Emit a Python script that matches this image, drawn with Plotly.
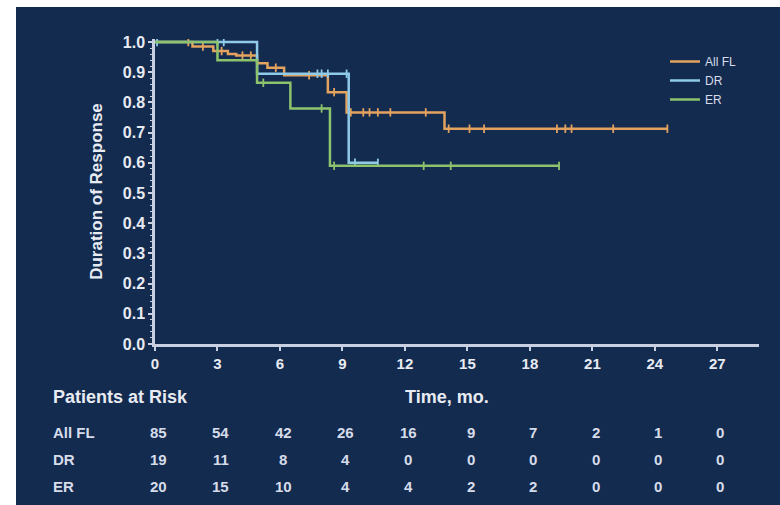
import plotly.graph_objects as go
import numpy as np

# ---- Kaplan-Meier step data (time in months, probability of remaining in response) ----
all_fl_time = [0, 1.8, 2.8, 3.5, 3.9, 4.9, 5.4, 6.2, 8.3, 9.2, 13.9]
all_fl_surv = [1.0, 0.985, 0.97, 0.96, 0.955, 0.93, 0.915, 0.89, 0.834, 0.767, 0.713]
all_fl_end = 24.6
all_fl_cens = [1.6, 2.3, 3.2, 4.2, 4.6, 5.8, 7.4, 8.6, 9.4, 10.0, 10.3, 10.7, 11.3,
               13.0, 14.1, 15.1, 15.8, 19.3, 19.7, 20.0, 22.0, 24.6]

dr_time = [0, 4.9, 9.3]
dr_surv = [1.0, 0.895, 0.6]
dr_end = 10.7
dr_cens = [0.1, 3.0, 3.3, 7.8, 8.0, 8.3, 9.2, 9.6, 10.7]

er_time = [0, 3.0, 4.9, 6.5, 8.4]
er_surv = [1.0, 0.94, 0.865, 0.78, 0.59]
er_end = 19.4
er_cens = [5.2, 8.0, 8.6, 12.9, 14.2, 19.4]

# ---- Patients at risk table ----
risk_times = [0, 3, 6, 9, 12, 15, 18, 21, 24, 27]
risk_all_fl = [85, 54, 42, 26, 16, 9, 7, 2, 1, 0]
risk_dr = [19, 11, 8, 4, 0, 0, 0, 0, 0, 0]
risk_er = [20, 15, 10, 4, 4, 2, 2, 0, 0, 0]

series_names = ["All FL", "DR", "ER"]
colors = ["#E3A35E", "#8FCBE8", "#8CC36C"]

NAVY = "#142B50"
AXIS = "#C9D0E2"
TEXT = "#E8EBF2"
SOFT = "#D6DCE9"
FONT = "Liberation Sans"

# layout geometry (pixels)
W, H = 780, 505
ML, MR, MT, MB = 155, 21, 39, 161
PLOT_W = W - ML - MR
PLOT_H = H - MT - MB


def py2paper(py):
    return (H - MB - py) / PLOT_H


def px2paper(px):
    return (px - ML) / PLOT_W


def step_value(times, surv, t):
    idx = np.searchsorted(times, t, side="right") - 1
    return surv[max(idx, 0)]


fig = go.Figure()

curves = [
    (all_fl_time, all_fl_surv, all_fl_end, all_fl_cens),
    (dr_time, dr_surv, dr_end, dr_cens),
    (er_time, er_surv, er_end, er_cens),
]

for name, color, (t, s, end, cens) in zip(series_names, colors, curves):
    xs = list(t) + [end]
    ys = list(s) + [s[-1]]
    fig.add_trace(go.Scatter(
        x=xs, y=ys, mode="lines", name=name,
        line=dict(color=color, width=2.5, shape="hv"),
        hoverinfo="skip",
    ))
    fig.add_trace(go.Scatter(
        x=cens, y=[step_value(t, s, c) for c in cens], mode="markers",
        marker=dict(symbol="line-ns-open", size=6, color=color,
                    line=dict(color=color, width=1.8)),
        showlegend=False, hoverinfo="skip",
    ))

annotations = []
annotations.append(dict(
    text="<b>Patients at Risk</b>", xref="paper", yref="paper",
    x=px2paper(51), y=py2paper(397), xanchor="left", yanchor="middle",
    showarrow=False, font=dict(family=FONT, size=18, color=TEXT),
))
annotations.append(dict(
    text="<b>Time, mo.</b>", xref="x", yref="paper",
    x=14.0, y=py2paper(397), xanchor="center", yanchor="middle",
    showarrow=False, font=dict(family=FONT, size=18, color=TEXT),
))

row_y = [432, 459, 486]
for name, vals, ry in zip(series_names, [risk_all_fl, risk_dr, risk_er], row_y):
    annotations.append(dict(
        text=f"<b>{name}</b>", xref="paper", yref="paper",
        x=px2paper(51), y=py2paper(ry), xanchor="left", yanchor="middle",
        showarrow=False, font=dict(family=FONT, size=15, color=SOFT),
    ))
    for tt, v in zip(risk_times, vals):
        annotations.append(dict(
            text=f"<b>{v}</b>", xref="x", yref="paper",
            x=tt + 0.15, y=py2paper(ry), xanchor="center", yanchor="middle",
            showarrow=False, font=dict(family=FONT, size=15, color=SOFT),
        ))

fig.update_layout(
    width=W, height=H,
    margin=dict(l=ML, r=MR, t=MT, b=MB),
    paper_bgcolor="white",
    plot_bgcolor=NAVY,
    font=dict(family=FONT, color=TEXT),
    showlegend=True,
    legend=dict(
        x=px2paper(665), y=py2paper(47), xanchor="left", yanchor="top",
        bgcolor="rgba(0,0,0,0)", font=dict(family=FONT, size=12, color=SOFT),
        tracegroupgap=0, itemwidth=30,
    ),
    shapes=[dict(
        type="rect", xref="paper", yref="paper", layer="below",
        x0=px2paper(16), x1=px2paper(W + 5), y0=py2paper(H + 5), y1=py2paper(7),
        fillcolor=NAVY, line=dict(width=0),
    )],
    annotations=annotations,
)

fig.update_xaxes(
    range=[0, 29], tickmode="array", tickvals=risk_times,
    ticktext=[f"<b>{t}</b>" for t in risk_times],
    showgrid=False, zeroline=False, showline=True, linecolor=AXIS, linewidth=2.5,
    ticks="outside", ticklen=4, tickwidth=1.5, tickcolor=AXIS,
    tickfont=dict(family=FONT, size=15, color=TEXT),
)
fig.update_yaxes(
    range=[0, 1.01], tickmode="array", tickvals=[i / 10 for i in range(11)],
    ticktext=[f"<b>{i / 10:.1f}</b>" for i in range(11)],
    showgrid=False, zeroline=False, showline=True, linecolor=AXIS, linewidth=2.5,
    ticks="outside", ticklen=4, tickwidth=1.5, tickcolor=AXIS,
    minor=dict(dtick=0.02, tick0=0, ticks="outside", ticklen=2, tickcolor=AXIS, tickwidth=1),
    tickfont=dict(family=FONT, size=16, color=TEXT),
    title=dict(text="<b>Duration of Response</b>", standoff=16,
               font=dict(family=FONT, size=17, color=TEXT)),
)

fig.write_html("out.html")
